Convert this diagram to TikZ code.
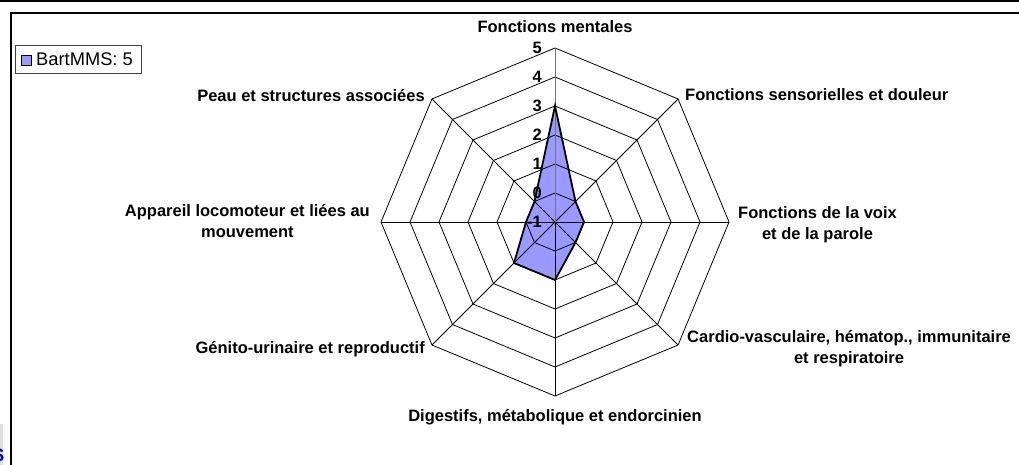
\documentclass[tikz,border=0pt]{standalone}
\usepackage{fontspec}
\setmainfont{Liberation Sans}
\usetikzlibrary{positioning}
\definecolor{bartfill}{HTML}{9999FF}

\begin{document}
\begin{tikzpicture}[x=1pt, y=1pt,
    axlabel/.style={font=\bfseries\fontsize{16.5}{21}\selectfont, align=center, inner sep=2pt},
    ticklabel/.style={font=\bfseries\fontsize{16.5}{16.5}\selectfont, anchor=base east, inner sep=1pt},
    gridline/.style={black, line width=0.8pt},
    serie/.style={draw=black, line width=1.8pt, line join=miter}]
  \useasboundingbox (0,0) rectangle (1019,465);
  % frame
  \draw[line width=1.2pt] (0,464) -- (1019,464);
  \draw[line width=1.2pt] (1019,452) -- (11,452) -- (11,0);
  \fill[gray!25] (0,0) rectangle (3,41);
  \begin{scope}
    \clip (0,0) rectangle (3.5,41);
    \node[font=\bfseries\fontsize{18}{18}\selectfont, text=blue!75!black, anchor=base east, inner sep=0pt] (cutS) at (4.5,3) {S};
  \end{scope}
  % radar
  \begin{scope}[shift={(555,243)}]
    \coordinate (v1) at (90:174);
    \coordinate (v2) at (45:174);
    \coordinate (v3) at (0:174);
    \coordinate (v4) at (-45:174);
    \coordinate (v5) at (-90:174);
    \coordinate (v6) at (-135:174);
    \coordinate (v7) at (180:174);
    \coordinate (v8) at (135:174);
    \fill[bartfill] (90:116) -- (45:29) -- (0:29) -- (-45:29) -- (-90:58) -- (-135:58) -- (180:29) -- (135:29) -- cycle;
    \foreach \r in {1,...,6}
      \draw[gridline] (90:\r*29) -- (45:\r*29) -- (0:\r*29) -- (-45:\r*29) -- (-90:\r*29) -- (-135:\r*29) -- (180:\r*29) -- (135:\r*29) -- cycle;
    \foreach \a in {45,0,...,-225}
      \draw[gridline] (0,0) -- (\a:174);
    \draw[gridline, black!55] (0,0) -- (v1);
    \draw[serie] (90:116) -- (45:29) -- (0:29) -- (-45:29) -- (-90:58) -- (-135:58) -- (180:29) -- (135:29) -- cycle;
    % value axis
    \foreach \v [count=\i from 0] in {-1,0,...,5}
      \node[ticklabel] (tick\i) at (-12,\i*29-5.5) {\v};
  \end{scope}
  % category labels
  \node[axlabel, anchor=base] (lment) at ([shift={(0,15)}]v1) {Fonctions mentales};
  \node[axlabel, anchor=base west] (lsens) at ([shift={(5,-1.5)}]v2) {Fonctions sensorielles et douleur};
  \node[axlabel, anchor=west] (lvoix) at ([shift={(7,-3)}]v3) {Fonctions de la voix\\et de la parole};
  \node[axlabel, anchor=west] (lcard) at ([shift={(7,-4)}]v4) {Cardio-vasculaire, hématop., immunitaire\\et respiratoire};
  \node[axlabel, anchor=north] (ldige) at ([shift={(0,-11)}]v5) {Digestifs, métabolique et endorcinien};
  \node[axlabel, anchor=base east] (lgeni) at ([shift={(-5,-8.5)}]v6) {Génito-urinaire et reproductif};
  \node[axlabel, anchor=east] (lappa) at ([shift={(-9,1)}]v7) {Appareil locomoteur et liées au\\mouvement};
  \node[axlabel, anchor=base east] (lpeau) at ([shift={(-5,-2.7)}]v8) {Peau et structures associées};
  % legend
  \node[draw=black!75, line width=0.9pt, minimum width=126pt, minimum height=28pt, anchor=south west, inner sep=0pt] (legend) at (15,391) {};
  \node[draw=black, line width=0.9pt, fill=bartfill, minimum size=10pt, inner sep=0pt] (legmark) at (26,405) {};
  \node[font=\fontsize{18.3}{18.3}\selectfont, anchor=base west, inner sep=0pt] (legtext) at (36,399) {BartMMS: 5};
\end{tikzpicture}
\end{document}
